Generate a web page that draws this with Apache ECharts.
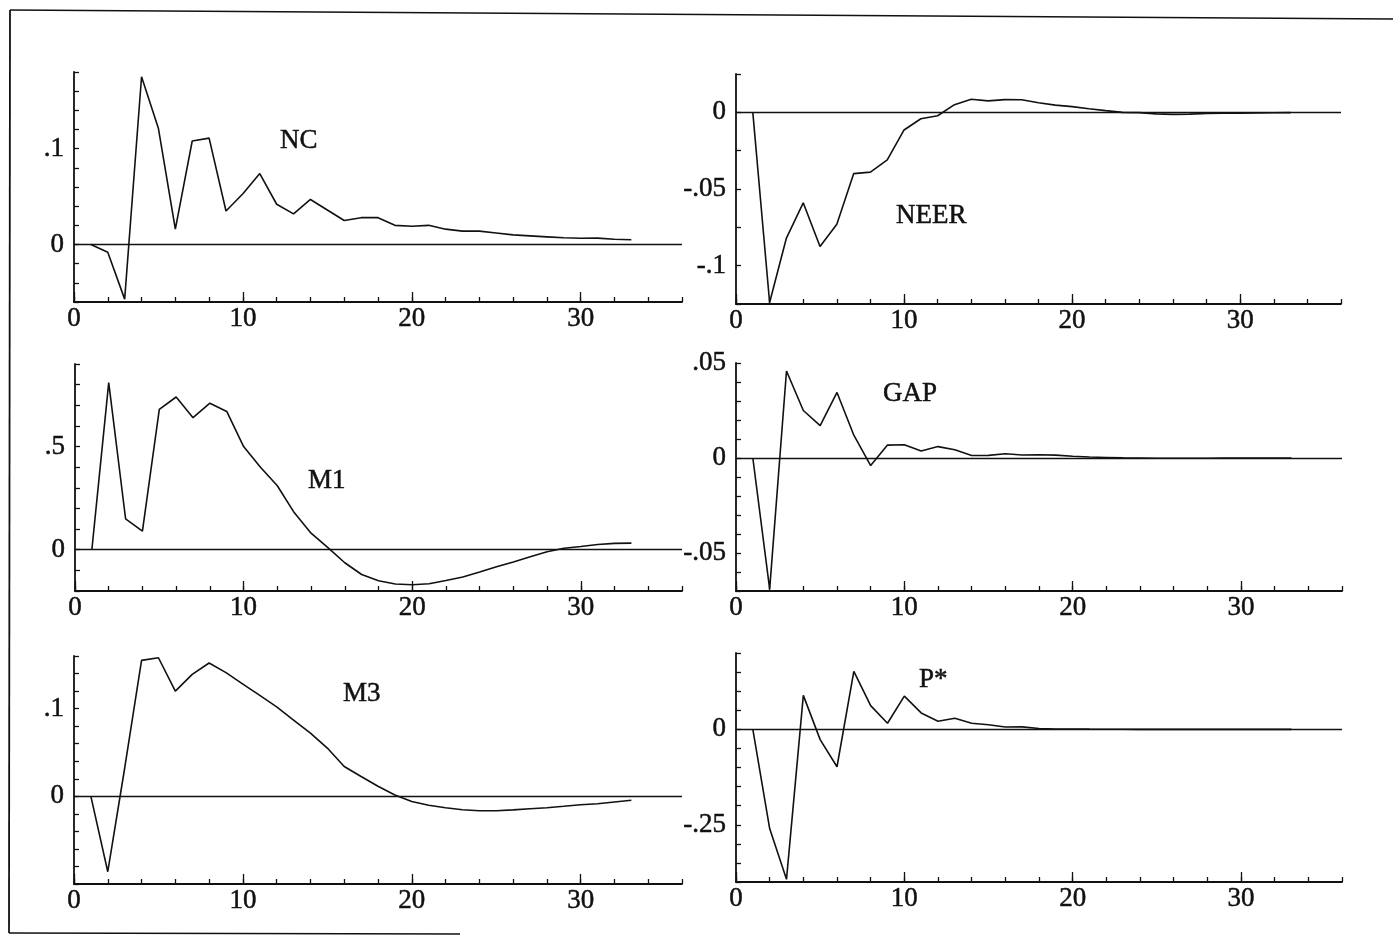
<!DOCTYPE html>
<html>
<head>
<meta charset="utf-8">
<script src="https://cdn.jsdelivr.net/npm/echarts@6/dist/echarts.min.js"></script>
<style>
  html, body { margin: 0; padding: 0; background: #fff; }
  #chart { width: 1393px; height: 936px; }
</style>
</head>
<body>
<div id="chart"></div>
<script>
// Impulse responses over a 33-quarter horizon
const periods = [1, 2, 3, 4, 5, 6, 7, 8, 9, 10, 11, 12, 13, 14, 15, 16, 17,
  18, 19, 20, 21, 22, 23, 24, 25, 26, 27, 28, 29, 30, 31, 32, 33];

const nc = [0, -0.008, -0.057, 0.175, 0.121, 0.016, 0.108, 0.111, 0.035, 0.053,
  0.074, 0.042, 0.032, 0.047, 0.036, 0.025, 0.028, 0.028, 0.020, 0.019,
  0.020, 0.016, 0.014, 0.014, 0.012, 0.010, 0.009, 0.008, 0.007, 0.0065,
  0.0067, 0.0054, 0.005];

const neer = [0, -0.124, -0.082, -0.059, -0.0875, -0.073, -0.040, -0.039, -0.031, -0.0115,
  -0.0042, -0.0022, 0.005, 0.0085, 0.0075, 0.0083, 0.0082, 0.0063, 0.0047, 0.0037,
  0.0023, 0.0011, 0, -0.0002, -0.001, -0.0013, -0.0012, -0.0008, -0.0006, -0.0005,
  -0.0004, -0.0003, -0.0002];

const m1 = [0, 0.81, 0.15, 0.09, 0.68, 0.74, 0.64, 0.71, 0.67, 0.50,
  0.40, 0.31, 0.18, 0.08, 0.01, -0.063, -0.12, -0.15, -0.166, -0.17,
  -0.165, -0.149, -0.132, -0.108, -0.083, -0.059, -0.034, -0.01, 0.0075, 0.016,
  0.025, 0.031, 0.032];

const gap = [0, -0.069, 0.0458, 0.025, 0.017, 0.0345, 0.012, -0.004, 0.0068, 0.007,
  0.0037, 0.006, 0.0043, 0.0013, 0.0014, 0.0022, 0.0016, 0.0017, 0.0015, 0.0009,
  0.0005, 0.0003, 0.0001, 0, -0.0001, -0.0001, -0.0001, -0.0001, 0, 0,
  0, 0, 0];

const m3 = [0, -0.086, 0.032, 0.155, 0.158, 0.120, 0.139, 0.152, 0.141, 0.128,
  0.115, 0.102, 0.087, 0.072, 0.055, 0.034, 0.0226, 0.0115, 0.0015, -0.006,
  -0.0102, -0.013, -0.0154, -0.0164, -0.0165, -0.0155, -0.0142, -0.013, -0.0114, -0.0097,
  -0.0085, -0.0065, -0.0045];

const pstar = [0, -0.26, -0.393, 0.089, -0.027, -0.098, 0.152, 0.062, 0.016, 0.087,
  0.043, 0.021, 0.029, 0.016, 0.012, 0.0063, 0.0065, 0.0022, 0.0006, 0.0008,
  0.0005, 0.0003, 0.0002, 0, -0.0001, -0.0001, -0.0001, 0, 0, 0,
  0, 0, 0];

// Horizontal axis: labels, short ticks and long ticks
const xLabels = [0, 10, 20, 30];
const xShortTicks = [0, 2, 4, 6, 8, 10, 12, 14, 16, 18, 20, 22, 24, 26, 28, 30, 32, 34, 36];
const xLongTicks = [0, 10, 20, 30];

// Vertical axis ranges and labelled values per panel
const yLabelsNC = [0, 0.1];
const yLabelsNEER = [-0.1, -0.05, 0];
const yLabelsM1 = [0, 0.5];
const yLabelsGAP = [-0.05, 0, 0.05];
const yLabelsM3 = [0, 0.1];
const yLabelsPSTAR = [-0.25, 0];

const panels = [
  { name: 'NC',   values: nc,    yMin: -0.06,  yMax: 0.18,  yStep: 0.02,  yLabels: yLabelsNC,
    grid: { left: 74,  top: 72,  width: 608, height: 230 }, title: { left: 280, mid: 141 } },
  { name: 'NEER', values: neer,  yMin: -0.125, yMax: 0.025, yStep: 0.025, yLabels: yLabelsNEER,
    grid: { left: 736, top: 74,  width: 605, height: 230 }, title: { left: 896, mid: 216 } },
  { name: 'M1',   values: m1,    yMin: -0.2,   yMax: 0.9,   yStep: 0.1,   yLabels: yLabelsM1,
    grid: { left: 75,  top: 364, width: 607, height: 227 }, title: { left: 308, mid: 481 } },
  { name: 'GAP',  values: gap,   yMin: -0.07,  yMax: 0.05,  yStep: 0.01,  yLabels: yLabelsGAP,
    grid: { left: 736, top: 363, width: 606, height: 228 }, title: { left: 883, mid: 394 } },
  { name: 'M3',   values: m3,    yMin: -0.1,   yMax: 0.16,  yStep: 0.02,  yLabels: yLabelsM3,
    grid: { left: 74,  top: 656, width: 608, height: 228 }, title: { left: 343, mid: 694 } },
  { name: 'P*',   values: pstar, yMin: -0.4,   yMax: 0.2,   yStep: 0.05,  yLabels: yLabelsPSTAR,
    grid: { left: 736, top: 653, width: 606, height: 229 }, title: { left: 919, mid: 680 } }
];

const FONT = '"Liberation Serif", "Times New Roman", serif';
const INK = '#111';
const TEXT_EDGE = { textBorderColor: INK, textBorderWidth: 0.5 };

// ".1", "-.05", "0" style numbers
function bareDecimal(v) {
  if (Math.abs(v) < 1e-12) return '0';
  const s = String(parseFloat(v.toFixed(4)));
  return s.replace(/^(-?)0\./, '$1.');
}

const grids = [], xAxes = [], yAxes = [], series = [], titles = [];

panels.forEach((p, i) => {
  grids.push(Object.assign({ containLabel: false }, p.grid));

  titles.push({
    text: p.name,
    left: p.title.left,
    top: p.title.mid - 14,
    padding: 0,
    textStyle: Object.assign({ fontFamily: FONT, fontSize: 27, fontWeight: 'normal',
      color: INK, lineHeight: 28 }, TEXT_EDGE)
  });

  // main horizontal axis: line, labels and short ticks
  xAxes.push({
    type: 'value', gridIndex: i, position: 'bottom', min: 0, max: 36,
    axisLine: { show: true, onZero: false, lineStyle: { color: INK, width: 1.8 } },
    axisTick: { show: true, inside: true, length: 5, customValues: xShortTicks,
      lineStyle: { color: INK, width: 1.3 } },
    axisLabel: Object.assign({ show: true, customValues: xLabels, margin: 3, color: INK,
      fontFamily: FONT, fontSize: 27, formatter: v => String(v) }, TEXT_EDGE),
    splitLine: { show: false }
  });
  // companion axis carrying the longer decade ticks
  xAxes.push({
    type: 'value', gridIndex: i, position: 'bottom', min: 0, max: 36,
    axisLine: { show: false, onZero: false },
    axisTick: { show: true, inside: true, length: 10, customValues: xLongTicks,
      lineStyle: { color: INK, width: 1.3 } },
    axisLabel: { show: false },
    splitLine: { show: false }
  });

  yAxes.push({
    type: 'value', gridIndex: i, position: 'left',
    min: p.yMin, max: p.yMax, interval: p.yStep,
    axisLine: { show: true, onZero: false, lineStyle: { color: INK, width: 1.8 } },
    axisTick: { show: true, inside: true, length: 5, lineStyle: { color: INK, width: 1.3 } },
    axisLabel: Object.assign({ show: true, customValues: p.yLabels, margin: 10, color: INK,
      fontFamily: FONT, fontSize: 27, formatter: bareDecimal }, TEXT_EDGE),
    splitLine: { show: false }
  });

  series.push({
    type: 'line', name: p.name,
    xAxisIndex: 2 * i, yAxisIndex: i,
    data: periods.map((t, k) => [t, p.values[k]]),
    showSymbol: false, symbol: 'none', smooth: false,
    lineStyle: { color: INK, width: 1.6 },
    animation: false,
    markLine: {
      silent: true, symbol: 'none', animation: false,
      label: { show: false },
      lineStyle: { color: INK, width: 1.3, type: 'solid' },
      data: [{ yAxis: 0 }]
    }
  });
});

const chart = echarts.init(document.getElementById('chart'), null, { renderer: 'canvas' });
chart.setOption({
  backgroundColor: '#fff',
  animation: false,
  title: titles,
  grid: grids,
  xAxis: xAxes,
  yAxis: yAxes,
  series: series,
  graphic: [
    // page frame: top, left and lower rule
    { type: 'line', shape: { x1: 10, y1: 10, x2: 1393, y2: 19 }, style: { stroke: INK, lineWidth: 1.6 } },
    { type: 'line', shape: { x1: 10, y1: 10, x2: 9, y2: 933 }, style: { stroke: INK, lineWidth: 1.8 } },
    { type: 'line', shape: { x1: 9, y1: 933, x2: 460, y2: 934 }, style: { stroke: INK, lineWidth: 1.6 } }
  ]
});
</script>
</body>
</html>
